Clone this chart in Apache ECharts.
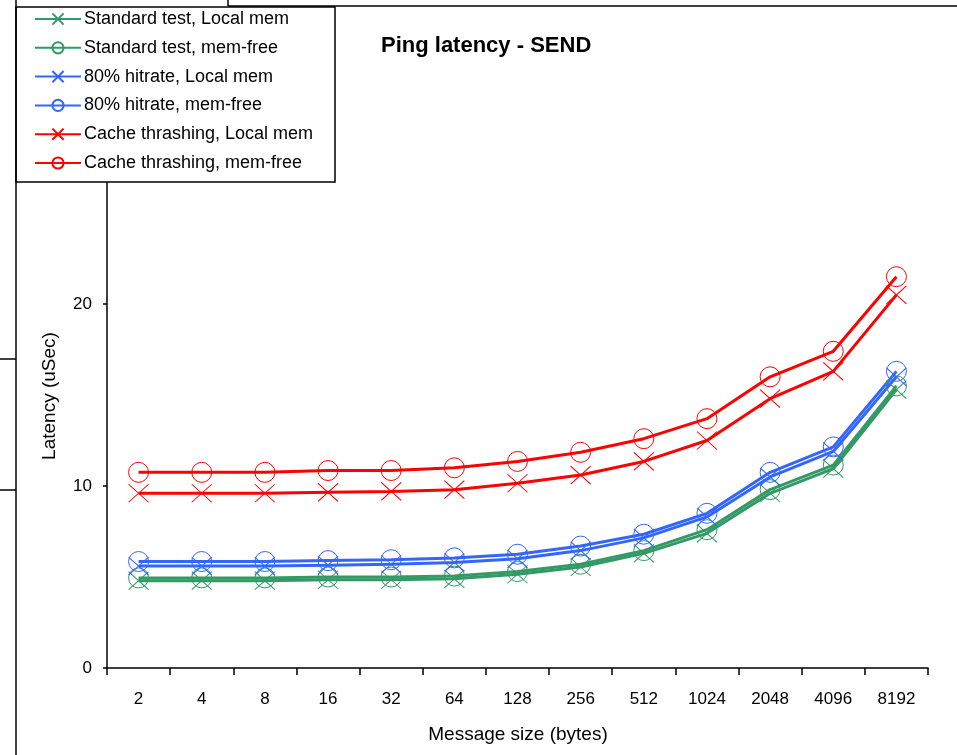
<!DOCTYPE html>
<html>
<head>
<meta charset="utf-8">
<script src="https://cdn.jsdelivr.net/npm/echarts@6/dist/echarts.min.js"></script>
<style>
  html, body { margin: 0; padding: 0; background: #fff; }
  #chart { width: 957px; height: 755px; }
</style>
</head>
<body>
<div id="chart"></div>
<script>
// Message sizes (bytes) on the category axis
const sizes = ['2', '4', '8', '16', '32', '64', '128', '256', '512', '1024', '2048', '4096', '8192'];

// Latency in microseconds per configuration
const standardLocal = [4.8, 4.8, 4.8, 4.85, 4.85, 4.9, 5.15, 5.55, 6.3, 7.4, 9.6, 10.95, 15.3];
const standardFree  = [4.95, 4.95, 4.95, 5.0, 5.0, 5.05, 5.3, 5.7, 6.45, 7.6, 9.8, 11.15, 15.5];
const hitLocal      = [5.6, 5.6, 5.6, 5.65, 5.7, 5.8, 6.0, 6.45, 7.15, 8.3, 10.5, 11.9, 16.0];
const hitFree       = [5.85, 5.85, 5.85, 5.9, 5.95, 6.05, 6.25, 6.7, 7.35, 8.5, 10.75, 12.15, 16.3];
const thrashLocal   = [9.6, 9.6, 9.6, 9.65, 9.7, 9.8, 10.15, 10.6, 11.35, 12.5, 14.8, 16.3, 20.5];
const thrashFree    = [10.75, 10.75, 10.75, 10.85, 10.85, 11.0, 11.35, 11.85, 12.6, 13.7, 16.0, 17.4, 21.5];

const seriesNames = [
  'Standard test, Local mem',
  'Standard test, mem-free',
  '80% hitrate, Local mem',
  '80% hitrate, mem-free',
  'Cache thrashing, Local mem',
  'Cache thrashing, mem-free'
];

const GREEN = '#339966';
const BLUE = '#3366FF';
const RED = '#FF0000';
const FONT = '"Liberation Sans", Arial, sans-serif';

const CROSS = 'path://M0 0L10 10M10 0L0 10';

function lineSeries(name, data, color, cross) {
  return {
    name: name,
    type: 'line',
    data: data,
    symbol: cross ? CROSS : 'circle',
    symbolSize: cross ? [20, 18] : 20,
    showSymbol: true,
    lineStyle: { color: color, width: 3 },
    itemStyle: { color: 'rgba(0,0,0,0)', borderColor: color, borderWidth: 1 },
    emphasis: { disabled: true },
    z: 2
  };
}

const chart = echarts.init(document.getElementById('chart'), null, { renderer: 'canvas' });

chart.setOption({
  animation: false,
  backgroundColor: '#fff',
  textStyle: { fontFamily: FONT, color: '#000' },
  title: {
    text: 'Ping latency - SEND',
    left: 381,
    top: 35,
    padding: 0,
    textStyle: { fontFamily: FONT, fontSize: 22, fontWeight: 'bold', color: '#000' }
  },
  grid: { left: 107, right: 29, top: 122, bottom: 87, containLabel: false },
  xAxis: {
    type: 'category',
    data: sizes,
    boundaryGap: true,
    axisLine: { lineStyle: { color: '#000', width: 1.5 } },
    axisTick: { show: true, length: 7, lineStyle: { color: '#000', width: 1.5 } },
    axisLabel: { color: '#000', fontFamily: FONT, fontSize: 17, margin: 23 },
    splitLine: { show: false }
  },
  yAxis: {
    type: 'value',
    min: 0,
    max: 30,
    interval: 10,
    axisLine: { show: true, lineStyle: { color: '#000', width: 1.5 } },
    axisTick: { show: true, length: 4, lineStyle: { color: '#000', width: 1.5 } },
    axisLabel: { color: '#000', fontFamily: FONT, fontSize: 17, margin: 15 },
    splitLine: { show: false }
  },
  legend: {
    orient: 'vertical',
    left: 30,
    top: 8,
    padding: [2, 4, 4, 4],
    itemWidth: 46,
    itemHeight: 14,
    itemGap: 10.8,
    z: 10,
    textStyle: { fontFamily: FONT, fontSize: 18, color: '#000', padding: [0, 0, 0, -2] },
    data: seriesNames
  },
  graphic: [
    // legend frame (drawn above the plot so it hides the axis top)
    { type: 'rect', z: 5, shape: { x: 16, y: 7, width: 319, height: 175 },
      style: { fill: '#fff', stroke: '#000', lineWidth: 1.5 } },
    // outer frame lines
    { type: 'line', z: 6, shape: { x1: 16, y1: 0, x2: 16, y2: 755 }, style: { stroke: '#000', lineWidth: 1.5 } },
    { type: 'line', z: 6, shape: { x1: 228, y1: 6, x2: 957, y2: 6 }, style: { stroke: '#000', lineWidth: 1.5 } },
    { type: 'line', z: 6, shape: { x1: 228, y1: 0, x2: 228, y2: 6 }, style: { stroke: '#000', lineWidth: 1.5 } },
    { type: 'line', z: 6, shape: { x1: 0, y1: 359, x2: 16, y2: 359 }, style: { stroke: '#000', lineWidth: 1.5 } },
    { type: 'line', z: 6, shape: { x1: 0, y1: 490, x2: 16, y2: 490 }, style: { stroke: '#000', lineWidth: 1.5 } },
    // axis titles
    { type: 'text', z: 6, x: 50, y: 396, rotation: Math.PI / 2,
      style: { text: 'Latency (uSec)', fill: '#000', font: '19px ' + FONT, align: 'center', verticalAlign: 'middle' } },
    { type: 'text', z: 6, x: 518, y: 735,
      style: { text: 'Message size (bytes)', fill: '#000', font: '19px ' + FONT, align: 'center', verticalAlign: 'middle' } }
  ],
  series: [
    lineSeries(seriesNames[0], standardLocal, GREEN, true),
    lineSeries(seriesNames[1], standardFree, GREEN, false),
    lineSeries(seriesNames[2], hitLocal, BLUE, true),
    lineSeries(seriesNames[3], hitFree, BLUE, false),
    lineSeries(seriesNames[4], thrashLocal, RED, true),
    lineSeries(seriesNames[5], thrashFree, RED, false)
  ]
});
</script>
</body>
</html>
